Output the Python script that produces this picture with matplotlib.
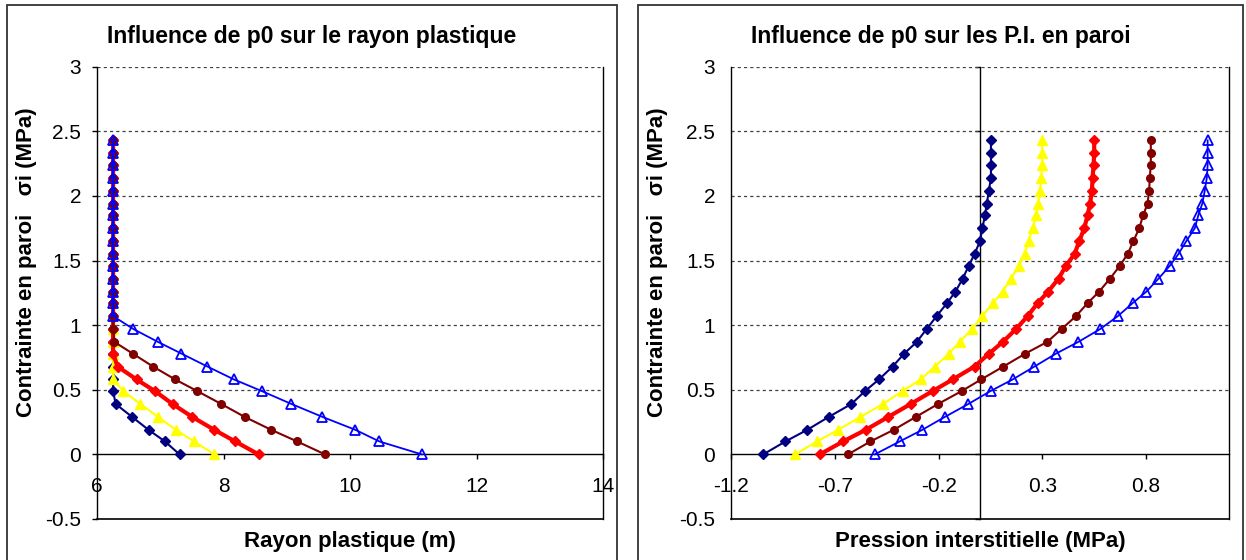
import matplotlib
matplotlib.use("Agg")
import matplotlib.pyplot as plt
from matplotlib.patches import Rectangle

plt.rcParams['font.family'] = ['Liberation Sans', 'DejaVu Sans']
plt.rcParams['axes.unicode_minus'] = False

# ---------------- data ----------------
sigma = [2.43, 2.33, 2.24, 2.14, 2.04, 1.94, 1.85, 1.75, 1.65, 1.55, 1.46, 1.36, 1.26,
         1.17, 1.07, 0.97, 0.87, 0.78, 0.68, 0.58, 0.49, 0.39, 0.29, 0.19, 0.10, 0.00]

# rayon plastique (m)
r_navy = [6.25, 6.25, 6.25, 6.25, 6.25, 6.25, 6.25, 6.25, 6.25, 6.25, 6.25, 6.25, 6.25,
          6.25, 6.25, 6.25, 6.25, 6.25, 6.25, 6.25, 6.25, 6.29, 6.55, 6.81, 7.07, 7.30]
r_yellow = [6.25, 6.25, 6.25, 6.25, 6.25, 6.25, 6.25, 6.25, 6.25, 6.25, 6.25, 6.25, 6.25,
            6.25, 6.25, 6.25, 6.25, 6.25, 6.25, 6.25, 6.41, 6.68, 6.96, 7.24, 7.53, 7.85]
r_red = [6.25, 6.25, 6.25, 6.25, 6.25, 6.25, 6.25, 6.25, 6.25, 6.25, 6.25, 6.25, 6.25,
         6.25, 6.25, 6.25, 6.25, 6.25, 6.32, 6.62, 6.91, 7.19, 7.50, 7.85, 8.18, 8.55]
r_darkred = [6.25, 6.25, 6.25, 6.25, 6.25, 6.25, 6.25, 6.25, 6.25, 6.25, 6.25, 6.25, 6.25,
             6.25, 6.25, 6.25, 6.27, 6.56, 6.88, 7.23, 7.58, 7.96, 8.33, 8.75, 9.16, 9.60]
r_blue = [6.25, 6.25, 6.25, 6.25, 6.25, 6.25, 6.25, 6.25, 6.25, 6.25, 6.25, 6.25, 6.25,
          6.25, 6.25, 6.57, 6.96, 7.33, 7.74, 8.16, 8.60, 9.07, 9.56, 10.08, 10.46, 11.13]

# pression interstitielle en paroi (MPa)
p_navy = [0.052, 0.052, 0.052, 0.052, 0.042, 0.032, 0.023, 0.011, -0.001, -0.027, -0.055,
          -0.084, -0.119, -0.160, -0.210, -0.258, -0.306, -0.366, -0.422, -0.488, -0.555,
          -0.621, -0.730, -0.834, -0.939, -1.046]
p_yellow = [0.299, 0.299, 0.299, 0.294, 0.289, 0.279, 0.270, 0.253, 0.234, 0.215, 0.186,
            0.149, 0.108, 0.061, 0.010, -0.039, -0.099, -0.151, -0.218, -0.287, -0.374,
            -0.469, -0.577, -0.685, -0.786, -0.893]
p_red = [0.550, 0.550, 0.547, 0.542, 0.539, 0.530, 0.518, 0.502, 0.478, 0.455, 0.414,
         0.378, 0.328, 0.277, 0.229, 0.173, 0.109, 0.043, -0.027, -0.132, -0.229,
         -0.335, -0.443, -0.552, -0.661, -0.773]
p_darkred = [0.823, 0.823, 0.823, 0.818, 0.815, 0.807, 0.786, 0.767, 0.739, 0.711, 0.674,
             0.626, 0.574, 0.518, 0.462, 0.393, 0.323, 0.218, 0.112, 0.005, -0.089,
             -0.203, -0.310, -0.417, -0.529, -0.637]
p_blue = [1.097, 1.097, 1.097, 1.093, 1.083, 1.071, 1.052, 1.035, 0.994, 0.956, 0.915,
          0.860, 0.802, 0.735, 0.664, 0.579, 0.473, 0.366, 0.262, 0.157, 0.050,
          -0.057, -0.170, -0.279, -0.388, -0.508]

y_ticks = [-0.5, 0, 0.5, 1, 1.5, 2, 2.5, 3]
y_ticklabels = ["-0.5", "0", "0.5", "1", "1.5", "2", "2.5", "3"]
grid_levels = [0.5, 1, 1.5, 2, 2.5, 3]
left_xticks = [6, 8, 10, 12, 14]
left_xticklabels = ["6", "8", "10", "12", "14"]
right_xticks = [-1.2, -0.7, -0.2, 0.3, 0.8]
right_xticklabels = ["-1.2", "-0.7", "-0.2", "0.3", "0.8"]

titles = ["Influence de p0 sur le rayon plastique", "Influence de p0 sur les P.I. en paroi"]
xlabels = ["Rayon plastique (m)", "Pression interstitielle (MPa)"]
ylabel = "Contrainte en paroi   σi (MPa)"

styles = [
    dict(color='#000080', marker='D', ms=5, lw=1.5),
    dict(color='#FFFF00', marker='^', ms=7, lw=1.5),
    dict(color='#FF0000', marker='D', ms=5, lw=3),
    dict(color='#800000', marker='o', ms=5.5, lw=1.5),
    dict(color='#0000FF', marker='^', ms=7, lw=1.3, mfc='none', mew=1.3),
]

W, H = 1246, 560
fig = plt.figure(figsize=(W / 100, H / 100), dpi=100)


def fx(px):
    return px / W


def fy(py):
    return 1 - py / H


# panel borders
for x0, x1 in [(7, 617), (638, 1243)]:
    fig.add_artist(Rectangle((fx(x0), -0.05), fx(x1) - fx(x0), fy(5) + 0.05,
                             transform=fig.transFigure, fill=False, ec='#333333', lw=1.3))

top, bottom = 66.7, 519
axL = fig.add_axes([fx(97.3), fy(bottom), fx(603.3) - fx(97.3), fy(top) - fy(bottom)])
axR = fig.add_axes([fx(731.3), fy(bottom), fx(1229) - fx(731.3), fy(top) - fy(bottom)])


def common(ax, xlim):
    ax.set_xlim(*xlim)
    ax.set_ylim(-0.5, 3)
    ax.spines['top'].set_visible(False)
    ax.spines['bottom'].set_position(('data', 0))
    for s in ['left', 'right', 'bottom']:
        ax.spines[s].set_linewidth(1)
        ax.spines[s].set_color('black')
    ax.axhline(-0.5, color='black', lw=1.2, clip_on=False, zorder=3)
    for g in grid_levels:
        ax.axhline(g, color='#404040', lw=0.9, ls=(0, (2.5, 2.5)), zorder=0.5)
    ax.set_yticks(y_ticks)
    ax.set_yticklabels(y_ticklabels)
    ax.tick_params(axis='x', direction='out', length=3.5, width=1, pad=13, labelsize=15)
    ax.tick_params(axis='y', direction='out', length=3.5, width=1, pad=8, labelsize=15)


common(axL, (6, 14))
axL.set_xticks(left_xticks)
axL.set_xticklabels(left_xticklabels)

common(axR, (-1.2, 1.2))
axR.set_xticks(right_xticks)
axR.set_xticklabels(right_xticklabels)
axR.tick_params(axis='y', length=0, pad=11.7)
sec = axR.secondary_yaxis(0, transform=axR.transData)
sec.set_alignment('left')
sec.set_yticks(y_ticks)
sec.tick_params(axis='y', direction='out', length=3.5, width=1, labelleft=False, labelright=False)
sec.spines['left'].set_linewidth(1)

left_series = [r_navy, r_yellow, r_red, r_darkred, r_blue]
right_series = [p_navy, p_yellow, p_red, p_darkred, p_blue]
for i, (xs, st) in enumerate(zip(left_series, styles)):
    axL.plot(xs, sigma, zorder=4 + i, clip_on=False, **st)
for i, (xs, st) in enumerate(zip(right_series, styles)):
    axR.plot(xs, sigma, zorder=4 + i, clip_on=False, **st)

# titles and axis labels
fig.text(fx(312), fy(37), titles[0], ha='center', va='center', fontsize=16.5, fontweight='bold')
fig.text(fx(941), fy(37), titles[1], ha='center', va='center', fontsize=16.5, fontweight='bold')
fig.text(fx(350), fy(541), xlabels[0], ha='center', va='center', fontsize=16, fontweight='bold')
fig.text(fx(980), fy(541), xlabels[1], ha='center', va='center', fontsize=16, fontweight='bold')
fig.text(fx(27), fy(262), ylabel, ha='center', va='center', rotation=90, fontsize=16, fontweight='bold')
fig.text(fx(657), fy(262), ylabel, ha='center', va='center', rotation=90, fontsize=16, fontweight='bold')

fig.savefig("out.png", dpi=100)
